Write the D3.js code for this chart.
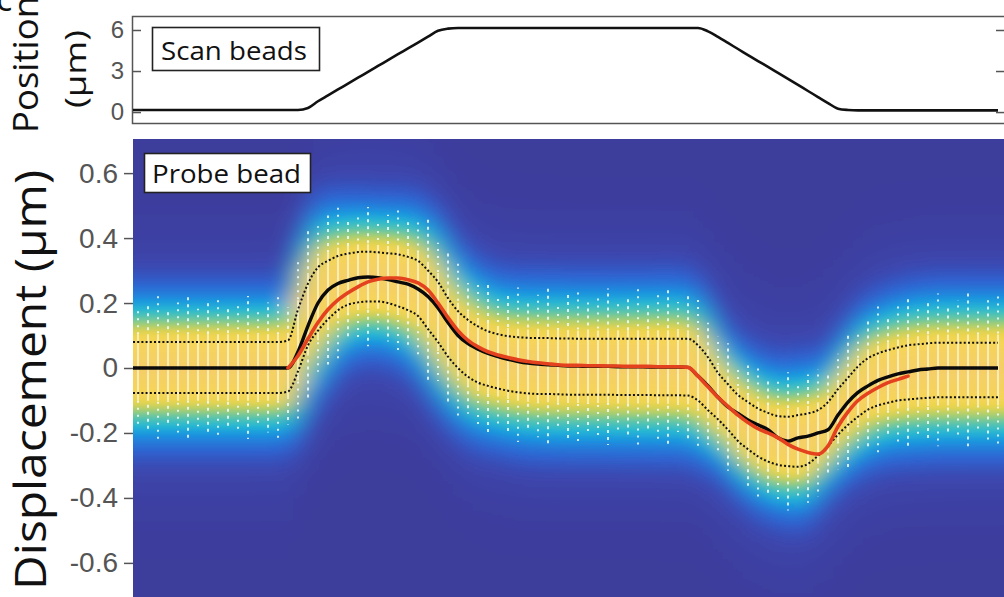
<!DOCTYPE html>
<html>
<head>
<meta charset="utf-8">
<script src="https://cdn.jsdelivr.net/npm/d3@7"></script>
<style>
  body { margin: 0; background: #fff; }
  svg { display: block; }
  .lab { font-family: "Open Sans", "Noto Sans", sans-serif; fill: #111; }
  .tick text { font-family: "Liberation Sans", Arial, sans-serif; fill: #555; }
</style>
</head>
<body>
<script>
// one sample per kymograph column
const samples = d3.range(87);

// scan bead position (um)
const scanPos = [
  0.15, 0.15, 0.15, 0.15, 0.15, 0.15, 0.15, 0.15, 0.15, 0.15, 0.15, 0.15, 0.15, 0.15, 0.15, 0.15, 0.15,
  0.3, 0.79, 1.22, 1.65, 2.08, 2.51, 2.94, 3.37, 3.8, 4.23, 4.65, 5.08, 5.51, 5.94, 6.1,
  6.15, 6.15, 6.15, 6.15, 6.15, 6.15, 6.15, 6.15, 6.15, 6.15, 6.15, 6.15, 6.15, 6.15, 6.15, 6.15, 6.15, 6.15, 6.15, 6.15, 6.15, 6.15, 6.15, 6.15, 6.15,
  5.9, 5.49, 5.05, 4.61, 4.17, 3.73, 3.3, 2.86, 2.42, 1.98, 1.54, 1.1, 0.66, 0.25, 0.15,
  0.12, 0.12, 0.12, 0.12, 0.12, 0.12, 0.12, 0.12, 0.12, 0.12, 0.12, 0.12, 0.12, 0.12, 0.12
];

// probe bead: mean displacement (um)
const meanDisp = [
  0, 0, 0, 0, 0, 0, 0, 0, 0, 0, 0, 0, 0, 0, 0,
  0, 0.05, 0.13, 0.2, 0.24, 0.26, 0.27, 0.278, 0.28, 0.278, 0.272, 0.265, 0.258, 0.243,
  0.22, 0.185, 0.14, 0.1, 0.075, 0.058, 0.045, 0.035, 0.027, 0.02, 0.015, 0.012, 0.01, 0.008,
  0.006, 0.006, 0.005, 0.005, 0.005, 0.004, 0.004, 0.004, 0.003, 0.003, 0.003, 0.003,
  0.002, -0.025, -0.055, -0.09, -0.12, -0.14, -0.16, -0.175, -0.19, -0.215, -0.225, -0.215,
  -0.21, -0.2, -0.19, -0.145, -0.105, -0.075, -0.055, -0.038, -0.027, -0.018, -0.012, -0.006, -0.003,
  0, 0, 0, 0, 0, 0, 0
];

// model prediction (red)
const fitDisp = [
  null, null, null, null, null, null, null, null, null, null, null, null, null, null, null,
  0, 0.038, 0.09, 0.14, 0.18, 0.21, 0.232, 0.25, 0.265, 0.273, 0.277, 0.277, 0.272, 0.262,
  0.24, 0.2, 0.155, 0.115, 0.085, 0.065, 0.05, 0.04, 0.032, 0.025, 0.02, 0.016, 0.013, 0.01,
  0.008, 0.008, 0.007, 0.007, 0.006, 0.006, 0.005, 0.005, 0.005, 0.004, 0.004, 0.004,
  0.002, -0.025, -0.058, -0.09, -0.118, -0.145, -0.168, -0.187, -0.2, -0.215, -0.235, -0.25,
  -0.26, -0.265, -0.24, -0.18, -0.135, -0.1, -0.078, -0.06, -0.045, -0.035, -0.025,
  null, null, null, null, null, null, null, null, null
];

// spread envelope (dotted)
const upperDisp = [
  0.08, 0.08, 0.08, 0.08, 0.08, 0.08, 0.08, 0.08, 0.08, 0.08, 0.08, 0.08, 0.08, 0.08, 0.08,
  0.085, 0.18, 0.26, 0.31, 0.33, 0.345, 0.352, 0.357, 0.358, 0.356, 0.353, 0.35, 0.342, 0.33,
  0.3, 0.265, 0.215, 0.175, 0.148, 0.128, 0.113, 0.104, 0.098, 0.095, 0.093, 0.092, 0.092, 0.091,
  0.091, 0.09, 0.09, 0.09, 0.09, 0.09, 0.09, 0.09, 0.09, 0.09, 0.09, 0.09,
  0.09, 0.07, 0.033, -0.015, -0.05, -0.083, -0.105, -0.125, -0.138, -0.148, -0.15, -0.145,
  -0.14, -0.13, -0.105, -0.065, -0.03, 0.005, 0.03, 0.045, 0.055, 0.063, 0.07, 0.073, 0.076,
  0.078, 0.078, 0.078, 0.078, 0.078, 0.078, 0.078
];
const lowerDisp = [
  -0.077, -0.077, -0.077, -0.077, -0.077, -0.077, -0.077, -0.077, -0.077, -0.077, -0.077, -0.077, -0.077, -0.077, -0.077,
  -0.072, -0.01, 0.07, 0.115, 0.15, 0.178, 0.195, 0.202, 0.205, 0.205, 0.2, 0.19, 0.178, 0.16,
  0.12, 0.08, 0.035, 0.0, -0.027, -0.045, -0.055, -0.063, -0.07, -0.075, -0.078, -0.08, -0.08, -0.081,
  -0.082, -0.082, -0.082, -0.082, -0.082, -0.083, -0.083, -0.083, -0.083, -0.084, -0.084, -0.084,
  -0.085, -0.1, -0.13, -0.158, -0.19, -0.225, -0.25, -0.272, -0.288, -0.298, -0.302, -0.304,
  -0.295, -0.27, -0.24, -0.205, -0.175, -0.15, -0.128, -0.115, -0.107, -0.1, -0.097, -0.094, -0.092,
  -0.09, -0.09, -0.09, -0.09, -0.09, -0.09, -0.09
];

const posTicks = [0, 3, 6];
const dispTicks = [-0.6, -0.4, -0.2, 0, 0.2, 0.4, 0.6];

function draw() {
  const svg = d3.select("body").append("svg")
    .attr("width", 1004)
    .attr("height", 597);
  const defs = svg.append("defs");

  // shared time axis for both panels
  const x = d3.scaleLinear().domain([-0.5, 86.6]).range([133, 1004]);
  const lineX = (i, k) => k === 0 ? x.range()[0] : x(i);

  // ---------- top panel: scan bead position ----------
  const yPos = d3.scaleLinear().domain([-0.8, 6.95]).range([123, 17]);
  const top = svg.append("g");

  top.append("rect")
    .attr("x", 132.5).attr("y", 16.5)
    .attr("width", 900).attr("height", 107)
    .attr("fill", "#fff")
    .attr("stroke", "#555").attr("stroke-width", 1.5);

  top.append("g")
    .attr("transform", "translate(133,0)")
    .call(d3.axisLeft(yPos).tickValues(posTicks).tickSize(-8).tickPadding(9))
    .call(g => g.select(".domain").remove())
    .call(g => g.selectAll(".tick line").attr("stroke", "#555").attr("stroke-width", 1.5))
    .call(g => g.selectAll(".tick text").attr("font-size", 24));

  top.append("g")
    .attr("transform", "translate(1004,0)")
    .call(d3.axisRight(yPos).tickValues(posTicks).tickSize(-8).tickFormat(""))
    .call(g => g.select(".domain").remove())
    .call(g => g.selectAll(".tick line").attr("stroke", "#555").attr("stroke-width", 1.5));

  top.append("path")
    .datum(samples)
    .attr("d", d3.line().x(lineX).y(i => yPos(scanPos[i])).curve(d3.curveMonotoneX))
    .attr("fill", "none")
    .attr("stroke", "#111")
    .attr("stroke-width", 2.6);

  top.append("rect")
    .attr("x", 152.5).attr("y", 27.5)
    .attr("width", 167).attr("height", 43)
    .attr("fill", "#fff").attr("stroke", "#222").attr("stroke-width", 1.6);
  top.append("text")
    .attr("class", "lab")
    .attr("x", 161).attr("y", 60)
    .attr("font-size", 26)
    .attr("textLength", 146).attr("lengthAdjust", "spacingAndGlyphs")
    .text("Scan beads");

  // ---------- bottom panel: probe bead displacement ----------
  const yD = d3.scaleLinear().domain([-0.705, 0.705]).range([597, 139]);

  const color = d3.scaleLinear()
    .domain([0, 0.04, 0.1, 0.2, 0.3, 0.42, 0.54, 0.66, 0.8, 1])
    .range(["#3e3c9b", "#3c46ad", "#2f62d0", "#1d8fe0", "#22b6d6", "#5cc6aa", "#b0cf68", "#ecd44c", "#f6d557", "#f5cf66"])
    .clamp(true);

  // density of the bead position around the column centre
  function density(i, v) {
    const c = (upperDisp[i] + lowerDisp[i]) / 2;
    const s = 1.42 * (upperDisp[i] - lowerDisp[i]) / 2;
    const d = v - c;
    return 0.93 * Math.exp(-d * d / (2 * s * s)) + 0.07 * Math.exp(-d * d / (2 * 0.24 * 0.24));
  }

  const levels = d3.range(0.705, -0.7051, -0.015);

  defs.append("clipPath").attr("id", "clipHeat")
    .append("rect")
    .attr("x", 133).attr("y", 139)
    .attr("width", 871).attr("height", 458);

  const blur = defs.append("filter").attr("id", "blurH")
    .attr("x", "-5%").attr("y", "-5%").attr("width", "110%").attr("height", "110%");
  blur.append("feGaussianBlur").attr("stdDeviation", "12 2");

  samples.forEach(i => {
    const grad = defs.append("linearGradient")
      .attr("id", "col" + i)
      .attr("gradientUnits", "userSpaceOnUse")
      .attr("x1", 0).attr("x2", 0)
      .attr("y1", yD(0.705)).attr("y2", yD(-0.705));
    grad.selectAll("stop")
      .data(levels)
      .join("stop")
      .attr("offset", v => (yD(v) - yD(0.705)) / (yD(-0.705) - yD(0.705)))
      .attr("stop-color", v => color(density(i, v)));
  });

  const heat = svg.append("g").attr("clip-path", "url(#clipHeat)");
  heat.append("rect")
    .attr("x", 133).attr("y", 139)
    .attr("width", 871).attr("height", 458)
    .attr("fill", color(0));

  heat.append("g")
    .attr("filter", "url(#blurH)")
    .selectAll("rect")
    .data(samples)
    .join("rect")
    .attr("x", i => x(i - 0.5) - (i === 0 ? 30 : 0))
    .attr("y", 130)
    .attr("width", i => x(i + 0.5) - x(i - 0.5) + 0.6 + (i === 0 || i === samples.length - 1 ? 30 : 0))
    .attr("height", 480)
    .attr("fill", i => `url(#col${i})`);

  // vertical streaks of single-frame bead positions
  const halfW = i => (upperDisp[i] - lowerDisp[i]) / 2;
  const mid = i => (upperDisp[i] + lowerDisp[i]) / 2;

  heat.append("g")
    .selectAll("line")
    .data(samples)
    .join("line")
    .attr("x1", i => x(i)).attr("x2", i => x(i))
    .attr("y1", i => yD(mid(i) + 1.3 * halfW(i)))
    .attr("y2", i => yD(mid(i) - 1.3 * halfW(i)))
    .attr("stroke", "#fffbe6")
    .attr("stroke-opacity", 0.65)
    .attr("stroke-width", 2);

  [1, -1].forEach(sign => {
    heat.append("g")
      .selectAll("line")
      .data(samples)
      .join("line")
      .attr("x1", i => x(i)).attr("x2", i => x(i))
      .attr("y1", i => yD(mid(i) + sign * 1.3 * halfW(i)))
      .attr("y2", i => yD(mid(i) + sign * (2.3 + (i % 3) * 0.25) * halfW(i)))
      .attr("stroke", "#effcff")
      .attr("stroke-opacity", 0.85)
      .attr("stroke-width", 2)
      .attr("stroke-dasharray", i => i % 2 ? "3 4" : "2 5")
      .attr("stroke-dashoffset", i => (i * 3) % 7);
  });

  const line = d3.line()
    .defined(d => d.v != null)
    .x(d => d.k === 0 ? x.range()[0] : x(d.i))
    .y(d => yD(d.v))
    .curve(d3.curveMonotoneX);
  const series = arr => samples.map((i, k) => ({ i, k, v: arr[i] }));

  [upperDisp, lowerDisp].forEach(arr => {
    heat.append("path")
      .datum(series(arr))
      .attr("d", line)
      .attr("fill", "none")
      .attr("stroke", "#111")
      .attr("stroke-width", 2)
      .attr("stroke-dasharray", "2 2.2");
  });

  heat.append("path")
    .datum(series(meanDisp))
    .attr("d", line)
    .attr("fill", "none")
    .attr("stroke", "#0a0a0a")
    .attr("stroke-width", 3.4);

  heat.append("path")
    .datum(series(fitDisp))
    .attr("d", line)
    .attr("fill", "none")
    .attr("stroke", "#e4421e")
    .attr("stroke-width", 3.6)
    .attr("stroke-linecap", "round");

  svg.append("g")
    .attr("transform", "translate(133,0)")
    .call(d3.axisLeft(yD).tickValues(dispTicks).tickSize(9).tickPadding(6)
      .tickFormat(d => d === 0 ? "0" : d.toFixed(1)))
    .call(g => g.select(".domain").remove())
    .call(g => g.selectAll(".tick line").attr("stroke", "#555").attr("stroke-width", 1.5))
    .call(g => g.selectAll(".tick text").attr("font-size", 28));

  svg.append("rect")
    .attr("x", 144.5).attr("y", 153.5)
    .attr("width", 166).attr("height", 39)
    .attr("fill", "#fff").attr("stroke", "#222").attr("stroke-width", 1.6);
  svg.append("text")
    .attr("class", "lab")
    .attr("x", 152).attr("y", 183)
    .attr("font-size", 26)
    .attr("textLength", 149).attr("lengthAdjust", "spacingAndGlyphs")
    .text("Probe bead");

  // ---------- axis titles ----------
  svg.append("text")
    .attr("class", "lab")
    .attr("transform", "translate(46,380) rotate(-90)")
    .attr("text-anchor", "middle")
    .attr("font-size", 44)
    .attr("textLength", 420).attr("lengthAdjust", "spacingAndGlyphs")
    .text("Displacement (µm)");

  svg.append("text")
    .attr("class", "lab")
    .attr("transform", "translate(38,133) rotate(-90)")
    .attr("font-size", 34)
    .attr("textLength", 137).attr("lengthAdjust", "spacingAndGlyphs")
    .text("Position");

  svg.append("text")
    .attr("class", "lab")
    .attr("transform", "translate(86,69) rotate(-90)")
    .attr("text-anchor", "middle")
    .attr("font-size", 29)
    .attr("textLength", 78).attr("lengthAdjust", "spacingAndGlyphs")
    .text("(µm)");

  // panel letter, cut by the top edge
  svg.append("text")
    .attr("class", "lab")
    .attr("x", -4).attr("y", 11)
    .attr("font-size", 34)
    .text("c");
}

draw();
</script>
</body>
</html>
